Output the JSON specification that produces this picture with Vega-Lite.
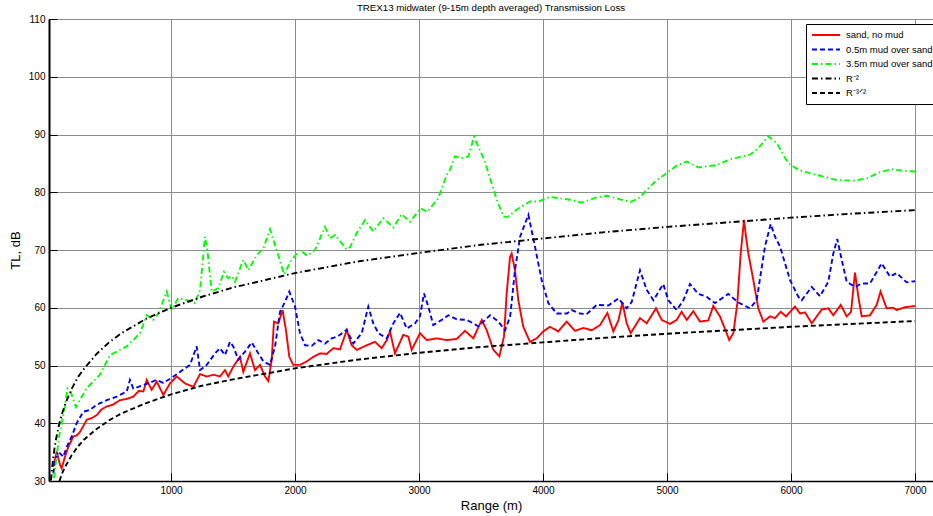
{
"$schema": "https://vega.github.io/schema/vega-lite/v6.json",
"width": 884, "height": 462,
"autosize": "none",
"padding": {"left": 49, "top": 19, "right": 0, "bottom": 35},
"background": "white",
"config": {"view": {"stroke": "black", "strokeWidth": 1}, "font": "Liberation Sans"},
"title": {"text": "TREX13 midwater (9-15m depth averaged) Transmission Loss", "fontSize": 9.7, "fontWeight": "normal", "font": "Liberation Sans", "anchor": "middle", "offset": 1, "color": "black"},
"data": {"values": [
{"s":"sand, no mud","r":51,"t":32.5},{"s":"sand, no mud","r":78,"t":35.1},{"s":"sand, no mud","r":105,"t":32.8},{"s":"sand, no mud","r":118,"t":32.2},{"s":"sand, no mud","r":145,"t":34.2},{"s":"sand, no mud","r":172,"t":35.9},{"s":"sand, no mud","r":212,"t":37.7},{"s":"sand, no mud","r":240,"t":37.9},{"s":"sand, no mud","r":266,"t":38.5},{"s":"sand, no mud","r":295,"t":39.6},{"s":"sand, no mud","r":320,"t":40.6},{"s":"sand, no mud","r":360,"t":40.9},{"s":"sand, no mud","r":401,"t":41.4},{"s":"sand, no mud","r":440,"t":42.4},{"s":"sand, no mud","r":481,"t":42.9},{"s":"sand, no mud","r":530,"t":43.2},{"s":"sand, no mud","r":589,"t":44.0},{"s":"sand, no mud","r":640,"t":44.2},{"s":"sand, no mud","r":696,"t":44.6},{"s":"sand, no mud","r":740,"t":45.6},{"s":"sand, no mud","r":777,"t":45.5},{"s":"sand, no mud","r":804,"t":47.5},{"s":"sand, no mud","r":844,"t":45.8},{"s":"sand, no mud","r":885,"t":47.2},{"s":"sand, no mud","r":938,"t":44.9},{"s":"sand, no mud","r":992,"t":46.9},{"s":"sand, no mud","r":1046,"t":48.1},{"s":"sand, no mud","r":1113,"t":46.9},{"s":"sand, no mud","r":1180,"t":46.3},{"s":"sand, no mud","r":1234,"t":48.5},{"s":"sand, no mud","r":1288,"t":48.1},{"s":"sand, no mud","r":1341,"t":48.4},{"s":"sand, no mud","r":1395,"t":48.1},{"s":"sand, no mud","r":1435,"t":49.2},{"s":"sand, no mud","r":1462,"t":48.1},{"s":"sand, no mud","r":1502,"t":49.8},{"s":"sand, no mud","r":1556,"t":51.5},{"s":"sand, no mud","r":1583,"t":48.9},{"s":"sand, no mud","r":1637,"t":52.1},{"s":"sand, no mud","r":1677,"t":49.2},{"s":"sand, no mud","r":1718,"t":50.1},{"s":"sand, no mud","r":1758,"t":48.1},{"s":"sand, no mud","r":1785,"t":47.3},{"s":"sand, no mud","r":1812,"t":51.0},{"s":"sand, no mud","r":1830,"t":57.6},{"s":"sand, no mud","r":1865,"t":57.3},{"s":"sand, no mud","r":1900,"t":59.6},{"s":"sand, no mud","r":1927,"t":56.1},{"s":"sand, no mud","r":1954,"t":51.5},{"s":"sand, no mud","r":1986,"t":50.1},{"s":"sand, no mud","r":2040,"t":50.1},{"s":"sand, no mud","r":2094,"t":50.7},{"s":"sand, no mud","r":2148,"t":51.5},{"s":"sand, no mud","r":2202,"t":52.1},{"s":"sand, no mud","r":2255,"t":52.0},{"s":"sand, no mud","r":2309,"t":53.0},{"s":"sand, no mud","r":2363,"t":52.8},{"s":"sand, no mud","r":2417,"t":56.1},{"s":"sand, no mud","r":2457,"t":53.5},{"s":"sand, no mud","r":2498,"t":52.7},{"s":"sand, no mud","r":2578,"t":53.5},{"s":"sand, no mud","r":2645,"t":54.1},{"s":"sand, no mud","r":2699,"t":53.0},{"s":"sand, no mud","r":2740,"t":54.4},{"s":"sand, no mud","r":2766,"t":55.9},{"s":"sand, no mud","r":2806,"t":52.1},{"s":"sand, no mud","r":2873,"t":55.3},{"s":"sand, no mud","r":2914,"t":55.0},{"s":"sand, no mud","r":2941,"t":52.7},{"s":"sand, no mud","r":3008,"t":55.6},{"s":"sand, no mud","r":3062,"t":54.4},{"s":"sand, no mud","r":3143,"t":54.7},{"s":"sand, no mud","r":3223,"t":54.4},{"s":"sand, no mud","r":3304,"t":54.6},{"s":"sand, no mud","r":3371,"t":56.0},{"s":"sand, no mud","r":3438,"t":54.7},{"s":"sand, no mud","r":3506,"t":57.9},{"s":"sand, no mud","r":3546,"t":56.1},{"s":"sand, no mud","r":3600,"t":52.7},{"s":"sand, no mud","r":3648,"t":51.6},{"s":"sand, no mud","r":3685,"t":55.0},{"s":"sand, no mud","r":3707,"t":62.5},{"s":"sand, no mud","r":3734,"t":68.8},{"s":"sand, no mud","r":3747,"t":69.4},{"s":"sand, no mud","r":3774,"t":66.5},{"s":"sand, no mud","r":3801,"t":61.3},{"s":"sand, no mud","r":3841,"t":56.7},{"s":"sand, no mud","r":3895,"t":54.1},{"s":"sand, no mud","r":3949,"t":54.7},{"s":"sand, no mud","r":4002,"t":55.9},{"s":"sand, no mud","r":4056,"t":56.7},{"s":"sand, no mud","r":4123,"t":55.9},{"s":"sand, no mud","r":4191,"t":57.6},{"s":"sand, no mud","r":4258,"t":56.0},{"s":"sand, no mud","r":4325,"t":56.5},{"s":"sand, no mud","r":4393,"t":56.1},{"s":"sand, no mud","r":4460,"t":57.0},{"s":"sand, no mud","r":4519,"t":59.1},{"s":"sand, no mud","r":4567,"t":55.9},{"s":"sand, no mud","r":4608,"t":57.8},{"s":"sand, no mud","r":4640,"t":60.9},{"s":"sand, no mud","r":4675,"t":57.3},{"s":"sand, no mud","r":4707,"t":55.6},{"s":"sand, no mud","r":4782,"t":58.2},{"s":"sand, no mud","r":4836,"t":57.3},{"s":"sand, no mud","r":4911,"t":59.9},{"s":"sand, no mud","r":4957,"t":57.9},{"s":"sand, no mud","r":5024,"t":57.2},{"s":"sand, no mud","r":5078,"t":57.9},{"s":"sand, no mud","r":5118,"t":59.3},{"s":"sand, no mud","r":5159,"t":57.9},{"s":"sand, no mud","r":5212,"t":59.4},{"s":"sand, no mud","r":5266,"t":57.6},{"s":"sand, no mud","r":5333,"t":57.8},{"s":"sand, no mud","r":5373,"t":60.3},{"s":"sand, no mud","r":5427,"t":58.5},{"s":"sand, no mud","r":5481,"t":55.6},{"s":"sand, no mud","r":5502,"t":54.4},{"s":"sand, no mud","r":5535,"t":55.6},{"s":"sand, no mud","r":5567,"t":60.8},{"s":"sand, no mud","r":5594,"t":69.4},{"s":"sand, no mud","r":5621,"t":75.2},{"s":"sand, no mud","r":5637,"t":72.3},{"s":"sand, no mud","r":5656,"t":69.4},{"s":"sand, no mud","r":5696,"t":64.8},{"s":"sand, no mud","r":5736,"t":59.9},{"s":"sand, no mud","r":5777,"t":57.6},{"s":"sand, no mud","r":5831,"t":58.5},{"s":"sand, no mud","r":5871,"t":58.2},{"s":"sand, no mud","r":5917,"t":59.3},{"s":"sand, no mud","r":5960,"t":58.5},{"s":"sand, no mud","r":6032,"t":60.2},{"s":"sand, no mud","r":6073,"t":59.0},{"s":"sand, no mud","r":6113,"t":59.2},{"s":"sand, no mud","r":6167,"t":57.3},{"s":"sand, no mud","r":6248,"t":59.7},{"s":"sand, no mud","r":6301,"t":59.9},{"s":"sand, no mud","r":6341,"t":58.7},{"s":"sand, no mud","r":6401,"t":60.5},{"s":"sand, no mud","r":6449,"t":58.5},{"s":"sand, no mud","r":6484,"t":59.3},{"s":"sand, no mud","r":6516,"t":66.1},{"s":"sand, no mud","r":6543,"t":61.9},{"s":"sand, no mud","r":6570,"t":58.5},{"s":"sand, no mud","r":6637,"t":58.7},{"s":"sand, no mud","r":6691,"t":60.5},{"s":"sand, no mud","r":6722,"t":62.8},{"s":"sand, no mud","r":6771,"t":59.9},{"s":"sand, no mud","r":6822,"t":60.0},{"s":"sand, no mud","r":6852,"t":59.6},{"s":"sand, no mud","r":6919,"t":60.1},{"s":"sand, no mud","r":7000,"t":60.3},
{"s":"0.5m mud over sand","r":51,"t":31.3},{"s":"0.5m mud over sand","r":65,"t":33.6},{"s":"0.5m mud over sand","r":91,"t":35.1},{"s":"0.5m mud over sand","r":131,"t":34.2},{"s":"0.5m mud over sand","r":159,"t":35.9},{"s":"0.5m mud over sand","r":199,"t":37.7},{"s":"0.5m mud over sand","r":239,"t":40.0},{"s":"0.5m mud over sand","r":293,"t":42.0},{"s":"0.5m mud over sand","r":347,"t":42.3},{"s":"0.5m mud over sand","r":401,"t":43.2},{"s":"0.5m mud over sand","r":481,"t":44.0},{"s":"0.5m mud over sand","r":562,"t":44.6},{"s":"0.5m mud over sand","r":643,"t":45.5},{"s":"0.5m mud over sand","r":669,"t":47.5},{"s":"0.5m mud over sand","r":696,"t":46.0},{"s":"0.5m mud over sand","r":777,"t":46.6},{"s":"0.5m mud over sand","r":885,"t":47.5},{"s":"0.5m mud over sand","r":938,"t":47.0},{"s":"0.5m mud over sand","r":1000,"t":47.8},{"s":"0.5m mud over sand","r":1073,"t":48.9},{"s":"0.5m mud over sand","r":1153,"t":50.1},{"s":"0.5m mud over sand","r":1207,"t":53.3},{"s":"0.5m mud over sand","r":1234,"t":49.2},{"s":"0.5m mud over sand","r":1288,"t":50.1},{"s":"0.5m mud over sand","r":1355,"t":52.1},{"s":"0.5m mud over sand","r":1395,"t":53.0},{"s":"0.5m mud over sand","r":1435,"t":51.8},{"s":"0.5m mud over sand","r":1476,"t":54.1},{"s":"0.5m mud over sand","r":1502,"t":53.3},{"s":"0.5m mud over sand","r":1543,"t":51.0},{"s":"0.5m mud over sand","r":1597,"t":52.4},{"s":"0.5m mud over sand","r":1651,"t":54.0},{"s":"0.5m mud over sand","r":1704,"t":52.1},{"s":"0.5m mud over sand","r":1745,"t":50.7},{"s":"0.5m mud over sand","r":1798,"t":50.1},{"s":"0.5m mud over sand","r":1839,"t":53.3},{"s":"0.5m mud over sand","r":1879,"t":59.3},{"s":"0.5m mud over sand","r":1919,"t":61.0},{"s":"0.5m mud over sand","r":1954,"t":62.8},{"s":"0.5m mud over sand","r":2000,"t":60.2},{"s":"0.5m mud over sand","r":2040,"t":55.6},{"s":"0.5m mud over sand","r":2081,"t":53.5},{"s":"0.5m mud over sand","r":2135,"t":53.4},{"s":"0.5m mud over sand","r":2188,"t":54.4},{"s":"0.5m mud over sand","r":2242,"t":53.8},{"s":"0.5m mud over sand","r":2296,"t":54.7},{"s":"0.5m mud over sand","r":2349,"t":55.1},{"s":"0.5m mud over sand","r":2417,"t":56.2},{"s":"0.5m mud over sand","r":2470,"t":53.8},{"s":"0.5m mud over sand","r":2538,"t":55.6},{"s":"0.5m mud over sand","r":2591,"t":60.2},{"s":"0.5m mud over sand","r":2631,"t":57.3},{"s":"0.5m mud over sand","r":2672,"t":55.6},{"s":"0.5m mud over sand","r":2740,"t":54.7},{"s":"0.5m mud over sand","r":2793,"t":57.3},{"s":"0.5m mud over sand","r":2847,"t":59.1},{"s":"0.5m mud over sand","r":2901,"t":56.4},{"s":"0.5m mud over sand","r":2968,"t":57.3},{"s":"0.5m mud over sand","r":3008,"t":58.5},{"s":"0.5m mud over sand","r":3040,"t":62.5},{"s":"0.5m mud over sand","r":3075,"t":60.2},{"s":"0.5m mud over sand","r":3115,"t":57.0},{"s":"0.5m mud over sand","r":3183,"t":57.9},{"s":"0.5m mud over sand","r":3237,"t":58.7},{"s":"0.5m mud over sand","r":3304,"t":58.0},{"s":"0.5m mud over sand","r":3385,"t":57.9},{"s":"0.5m mud over sand","r":3478,"t":56.8},{"s":"0.5m mud over sand","r":3573,"t":58.7},{"s":"0.5m mud over sand","r":3640,"t":57.6},{"s":"0.5m mud over sand","r":3694,"t":56.1},{"s":"0.5m mud over sand","r":3735,"t":58.5},{"s":"0.5m mud over sand","r":3774,"t":66.5},{"s":"0.5m mud over sand","r":3815,"t":72.3},{"s":"0.5m mud over sand","r":3882,"t":76.1},{"s":"0.5m mud over sand","r":3935,"t":70.6},{"s":"0.5m mud over sand","r":3989,"t":64.8},{"s":"0.5m mud over sand","r":4043,"t":60.8},{"s":"0.5m mud over sand","r":4110,"t":59.0},{"s":"0.5m mud over sand","r":4191,"t":59.0},{"s":"0.5m mud over sand","r":4231,"t":59.6},{"s":"0.5m mud over sand","r":4298,"t":59.0},{"s":"0.5m mud over sand","r":4352,"t":58.9},{"s":"0.5m mud over sand","r":4433,"t":60.5},{"s":"0.5m mud over sand","r":4527,"t":60.4},{"s":"0.5m mud over sand","r":4608,"t":61.6},{"s":"0.5m mud over sand","r":4675,"t":59.9},{"s":"0.5m mud over sand","r":4715,"t":61.0},{"s":"0.5m mud over sand","r":4782,"t":66.5},{"s":"0.5m mud over sand","r":4836,"t":63.1},{"s":"0.5m mud over sand","r":4890,"t":61.3},{"s":"0.5m mud over sand","r":4970,"t":64.1},{"s":"0.5m mud over sand","r":5010,"t":61.3},{"s":"0.5m mud over sand","r":5078,"t":59.6},{"s":"0.5m mud over sand","r":5132,"t":61.3},{"s":"0.5m mud over sand","r":5185,"t":64.1},{"s":"0.5m mud over sand","r":5253,"t":62.4},{"s":"0.5m mud over sand","r":5320,"t":61.9},{"s":"0.5m mud over sand","r":5387,"t":60.8},{"s":"0.5m mud over sand","r":5494,"t":62.4},{"s":"0.5m mud over sand","r":5575,"t":60.9},{"s":"0.5m mud over sand","r":5669,"t":59.9},{"s":"0.5m mud over sand","r":5723,"t":61.3},{"s":"0.5m mud over sand","r":5790,"t":70.6},{"s":"0.5m mud over sand","r":5836,"t":74.5},{"s":"0.5m mud over sand","r":5871,"t":72.3},{"s":"0.5m mud over sand","r":5911,"t":70.6},{"s":"0.5m mud over sand","r":5992,"t":64.8},{"s":"0.5m mud over sand","r":6059,"t":61.9},{"s":"0.5m mud over sand","r":6086,"t":61.3},{"s":"0.5m mud over sand","r":6167,"t":63.6},{"s":"0.5m mud over sand","r":6234,"t":62.0},{"s":"0.5m mud over sand","r":6301,"t":64.5},{"s":"0.5m mud over sand","r":6341,"t":69.4},{"s":"0.5m mud over sand","r":6373,"t":71.9},{"s":"0.5m mud over sand","r":6409,"t":68.3},{"s":"0.5m mud over sand","r":6449,"t":64.5},{"s":"0.5m mud over sand","r":6516,"t":63.6},{"s":"0.5m mud over sand","r":6570,"t":64.2},{"s":"0.5m mud over sand","r":6637,"t":64.2},{"s":"0.5m mud over sand","r":6691,"t":66.2},{"s":"0.5m mud over sand","r":6731,"t":67.7},{"s":"0.5m mud over sand","r":6798,"t":65.4},{"s":"0.5m mud over sand","r":6852,"t":66.0},{"s":"0.5m mud over sand","r":6933,"t":64.4},{"s":"0.5m mud over sand","r":7000,"t":64.6},
{"s":"3.5m mud over sand","r":56,"t":30.5},{"s":"3.5m mud over sand","r":97,"t":37.7},{"s":"3.5m mud over sand","r":137,"t":42.0},{"s":"3.5m mud over sand","r":165,"t":46.0},{"s":"3.5m mud over sand","r":190,"t":45.5},{"s":"3.5m mud over sand","r":234,"t":42.8},{"s":"3.5m mud over sand","r":320,"t":46.1},{"s":"3.5m mud over sand","r":427,"t":48.4},{"s":"3.5m mud over sand","r":508,"t":51.8},{"s":"3.5m mud over sand","r":643,"t":53.3},{"s":"3.5m mud over sand","r":750,"t":55.6},{"s":"3.5m mud over sand","r":804,"t":58.7},{"s":"3.5m mud over sand","r":855,"t":57.9},{"s":"3.5m mud over sand","r":898,"t":59.0},{"s":"3.5m mud over sand","r":965,"t":62.8},{"s":"3.5m mud over sand","r":1005,"t":59.6},{"s":"3.5m mud over sand","r":1059,"t":61.7},{"s":"3.5m mud over sand","r":1126,"t":61.3},{"s":"3.5m mud over sand","r":1194,"t":60.8},{"s":"3.5m mud over sand","r":1234,"t":63.1},{"s":"3.5m mud over sand","r":1274,"t":72.3},{"s":"3.5m mud over sand","r":1293,"t":70.0},{"s":"3.5m mud over sand","r":1328,"t":62.8},{"s":"3.5m mud over sand","r":1381,"t":63.4},{"s":"3.5m mud over sand","r":1427,"t":66.2},{"s":"3.5m mud over sand","r":1462,"t":65.1},{"s":"3.5m mud over sand","r":1489,"t":65.5},{"s":"3.5m mud over sand","r":1516,"t":64.5},{"s":"3.5m mud over sand","r":1583,"t":68.3},{"s":"3.5m mud over sand","r":1624,"t":66.5},{"s":"3.5m mud over sand","r":1691,"t":69.1},{"s":"3.5m mud over sand","r":1745,"t":70.3},{"s":"3.5m mud over sand","r":1798,"t":73.6},{"s":"3.5m mud over sand","r":1852,"t":70.0},{"s":"3.5m mud over sand","r":1911,"t":65.8},{"s":"3.5m mud over sand","r":1973,"t":68.3},{"s":"3.5m mud over sand","r":2040,"t":70.0},{"s":"3.5m mud over sand","r":2099,"t":69.0},{"s":"3.5m mud over sand","r":2161,"t":70.0},{"s":"3.5m mud over sand","r":2242,"t":74.0},{"s":"3.5m mud over sand","r":2282,"t":72.0},{"s":"3.5m mud over sand","r":2323,"t":72.6},{"s":"3.5m mud over sand","r":2417,"t":70.1},{"s":"3.5m mud over sand","r":2444,"t":70.5},{"s":"3.5m mud over sand","r":2497,"t":72.9},{"s":"3.5m mud over sand","r":2565,"t":75.2},{"s":"3.5m mud over sand","r":2631,"t":73.2},{"s":"3.5m mud over sand","r":2712,"t":75.5},{"s":"3.5m mud over sand","r":2793,"t":73.9},{"s":"3.5m mud over sand","r":2860,"t":76.2},{"s":"3.5m mud over sand","r":2927,"t":74.9},{"s":"3.5m mud over sand","r":3013,"t":77.2},{"s":"3.5m mud over sand","r":3067,"t":76.6},{"s":"3.5m mud over sand","r":3156,"t":79.0},{"s":"3.5m mud over sand","r":3223,"t":83.0},{"s":"3.5m mud over sand","r":3250,"t":83.9},{"s":"3.5m mud over sand","r":3290,"t":86.2},{"s":"3.5m mud over sand","r":3344,"t":85.9},{"s":"3.5m mud over sand","r":3398,"t":86.2},{"s":"3.5m mud over sand","r":3444,"t":89.6},{"s":"3.5m mud over sand","r":3478,"t":87.9},{"s":"3.5m mud over sand","r":3532,"t":85.3},{"s":"3.5m mud over sand","r":3573,"t":82.4},{"s":"3.5m mud over sand","r":3627,"t":78.7},{"s":"3.5m mud over sand","r":3680,"t":75.8},{"s":"3.5m mud over sand","r":3712,"t":75.7},{"s":"3.5m mud over sand","r":3801,"t":77.2},{"s":"3.5m mud over sand","r":3895,"t":78.4},{"s":"3.5m mud over sand","r":3962,"t":78.4},{"s":"3.5m mud over sand","r":4056,"t":79.2},{"s":"3.5m mud over sand","r":4218,"t":78.7},{"s":"3.5m mud over sand","r":4312,"t":78.2},{"s":"3.5m mud over sand","r":4433,"t":79.1},{"s":"3.5m mud over sand","r":4514,"t":79.4},{"s":"3.5m mud over sand","r":4702,"t":78.3},{"s":"3.5m mud over sand","r":4782,"t":79.1},{"s":"3.5m mud over sand","r":4836,"t":80.4},{"s":"3.5m mud over sand","r":4917,"t":82.1},{"s":"3.5m mud over sand","r":4997,"t":83.3},{"s":"3.5m mud over sand","r":5078,"t":84.6},{"s":"3.5m mud over sand","r":5159,"t":85.3},{"s":"3.5m mud over sand","r":5253,"t":84.3},{"s":"3.5m mud over sand","r":5401,"t":84.7},{"s":"3.5m mud over sand","r":5508,"t":85.7},{"s":"3.5m mud over sand","r":5669,"t":86.5},{"s":"3.5m mud over sand","r":5736,"t":87.6},{"s":"3.5m mud over sand","r":5817,"t":89.7},{"s":"3.5m mud over sand","r":5885,"t":88.5},{"s":"3.5m mud over sand","r":5978,"t":85.0},{"s":"3.5m mud over sand","r":6059,"t":83.9},{"s":"3.5m mud over sand","r":6099,"t":83.6},{"s":"3.5m mud over sand","r":6261,"t":82.7},{"s":"3.5m mud over sand","r":6369,"t":82.1},{"s":"3.5m mud over sand","r":6503,"t":82.0},{"s":"3.5m mud over sand","r":6611,"t":82.4},{"s":"3.5m mud over sand","r":6718,"t":83.5},{"s":"3.5m mud over sand","r":6812,"t":84.0},{"s":"3.5m mud over sand","r":6906,"t":83.7},{"s":"3.5m mud over sand","r":7000,"t":83.6},
{"s":"R⁻²","r":32,"t":30.1},{"s":"R⁻²","r":40,"t":32.0},{"s":"R⁻²","r":50,"t":34.0},{"s":"R⁻²","r":60,"t":35.6},{"s":"R⁻²","r":75,"t":37.5},{"s":"R⁻²","r":100,"t":40.0},{"s":"R⁻²","r":125,"t":41.9},{"s":"R⁻²","r":150,"t":43.5},{"s":"R⁻²","r":200,"t":46.0},{"s":"R⁻²","r":250,"t":48.0},{"s":"R⁻²","r":300,"t":49.5},{"s":"R⁻²","r":400,"t":52.0},{"s":"R⁻²","r":500,"t":54.0},{"s":"R⁻²","r":600,"t":55.6},{"s":"R⁻²","r":800,"t":58.1},{"s":"R⁻²","r":1000,"t":60.0},{"s":"R⁻²","r":1250,"t":61.9},{"s":"R⁻²","r":1500,"t":63.5},{"s":"R⁻²","r":2000,"t":66.0},{"s":"R⁻²","r":2500,"t":68.0},{"s":"R⁻²","r":3000,"t":69.5},{"s":"R⁻²","r":3500,"t":70.9},{"s":"R⁻²","r":4000,"t":72.0},{"s":"R⁻²","r":4500,"t":73.1},{"s":"R⁻²","r":5000,"t":74.0},{"s":"R⁻²","r":5500,"t":74.8},{"s":"R⁻²","r":6000,"t":75.6},{"s":"R⁻²","r":6500,"t":76.3},{"s":"R⁻²","r":7000,"t":76.9},
{"s":"R⁻³ᐟ²","r":100,"t":30.0},{"s":"R⁻³ᐟ²","r":125,"t":31.5},{"s":"R⁻³ᐟ²","r":150,"t":32.6},{"s":"R⁻³ᐟ²","r":200,"t":34.5},{"s":"R⁻³ᐟ²","r":250,"t":36.0},{"s":"R⁻³ᐟ²","r":300,"t":37.2},{"s":"R⁻³ᐟ²","r":400,"t":39.0},{"s":"R⁻³ᐟ²","r":500,"t":40.5},{"s":"R⁻³ᐟ²","r":600,"t":41.7},{"s":"R⁻³ᐟ²","r":800,"t":43.5},{"s":"R⁻³ᐟ²","r":1000,"t":45.0},{"s":"R⁻³ᐟ²","r":1250,"t":46.5},{"s":"R⁻³ᐟ²","r":1500,"t":47.6},{"s":"R⁻³ᐟ²","r":2000,"t":49.5},{"s":"R⁻³ᐟ²","r":2500,"t":51.0},{"s":"R⁻³ᐟ²","r":3000,"t":52.2},{"s":"R⁻³ᐟ²","r":3500,"t":53.2},{"s":"R⁻³ᐟ²","r":4000,"t":54.0},{"s":"R⁻³ᐟ²","r":4500,"t":54.8},{"s":"R⁻³ᐟ²","r":5000,"t":55.5},{"s":"R⁻³ᐟ²","r":5500,"t":56.1},{"s":"R⁻³ᐟ²","r":6000,"t":56.7},{"s":"R⁻³ᐟ²","r":6500,"t":57.2},{"s":"R⁻³ᐟ²","r":7000,"t":57.7}
]},
"mark": {"type": "line", "strokeWidth": 1.9, "clip": true},
"encoding": {
  "x": {"field": "r", "type": "quantitative",
    "scale": {"domain": [16, 7145], "nice": false, "zero": false},
    "axis": {"values": [1000,2000,3000,4000,5000,6000,7000], "format": "d", "title": "Range (m)", "titleFontSize": 13, "titleFontWeight": "normal", "titleColor": "black", "titlePadding": 4,
      "labelFontSize": 10, "labelColor": "black", "labelPadding": 12, "tickSize": -8, "tickColor": "black", "domainColor": "black", "domainWidth": 1.5,
      "gridColor": "#8c8c8c", "gridWidth": 1, "gridOpacity": 1, "labelFlush": false}},
  "y": {"field": "t", "type": "quantitative",
    "scale": {"domain": [30, 110], "nice": false, "zero": false},
    "axis": {"values": [30,40,50,60,70,80,90,100,110], "format": "d", "title": "TL, dB", "titleFontSize": 13, "titleFontWeight": "normal", "titleColor": "black", "titlePadding": 6,
      "labelFontSize": 10, "labelColor": "black", "labelPadding": 12, "tickSize": -8, "tickColor": "black", "domainColor": "black", "domainWidth": 2,
      "gridColor": "#8c8c8c", "gridWidth": 1, "gridOpacity": 1, "labelFlush": false}},
  "color": {"field": "s", "type": "nominal",
    "scale": {"domain": ["sand, no mud","0.5m mud over sand","3.5m mud over sand","R⁻²","R⁻³ᐟ²"], "range": ["#ff0000","#0000ff","#00ff00","#000000","#000000"]},
    "legend": {"orient": "none", "legendX": 757, "legendY": 5, "title": null, "fillColor": "white", "strokeColor": "black", "padding": 5, "cornerRadius": 0,
      "symbolType": "stroke", "symbolSize": 784, "symbolStrokeWidth": 1.8, "labelFontSize": 9.5, "labelColor": "black", "labelFont": "Liberation Sans", "clipHeight": 12, "rowPadding": 2.5, "labelOffset": 5, "labelLimit": 200}},
  "strokeDash": {"field": "s", "type": "nominal",
    "scale": {"domain": ["sand, no mud","0.5m mud over sand","3.5m mud over sand","R⁻²","R⁻³ᐟ²"], "range": [[1,0],[5,3],[6,3,1.5,3],[6,3,1.5,3],[5,3]]},
    "legend": {"orient": "none", "legendX": 757, "legendY": 5, "title": null, "fillColor": "white", "strokeColor": "black", "padding": 5, "cornerRadius": 0,
      "symbolType": "stroke", "symbolSize": 784, "symbolStrokeWidth": 1.8, "labelFontSize": 9.5, "labelColor": "black", "labelFont": "Liberation Sans", "clipHeight": 12, "rowPadding": 2.5, "labelOffset": 5, "labelLimit": 200}}
}
}
